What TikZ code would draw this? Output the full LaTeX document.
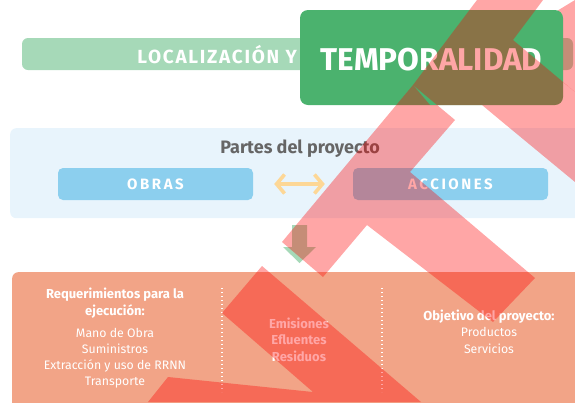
\documentclass[tikz,border=0pt]{standalone}
\usepackage{fontspec}
\setmainfont{Fira Sans}
\newfontfamily\trackA[LetterSpace=9]{Fira Sans}
\newfontfamily\trackB[LetterSpace=17]{Fira Sans}
\usetikzlibrary{arrows.meta}
\definecolor{boxgreen}{RGB}{75,178,110}
\definecolor{lgreen}{RGB}{166,217,184}
\definecolor{lblue}{RGB}{232,244,252}
\definecolor{bluebox}{RGB}{140,207,238}
\definecolor{salmon}{RGB}{242,164,135}
\definecolor{titlegrey}{RGB}{102,102,102}
\definecolor{arrowc}{RGB}{253,215,150}
\begin{document}
\begin{tikzpicture}[x=1pt,y=-1pt,
  txt/.style={inner sep=0pt, text=white, anchor=base},
  hd/.style={txt, font=\bfseries\fontsize{13}{15}\selectfont},
  it/.style={txt, font=\fontsize{12.3}{15}\selectfont},
  tagbox/.style={fill=bluebox, rounded corners=5pt, minimum width=195pt, minimum height=32pt, inner sep=0pt, text=white, font=\trackB\bfseries\fontsize{15}{17}\selectfont},
  sep/.style={white, line width=1.1pt, dash pattern=on 1.1pt off 2.9pt},
  dbl/.style={arrowc, line width=3.6pt, {Straight Barb[length=8pt,width=19pt]}-{Straight Barb[length=8pt,width=19pt]}},
  overlay/.style={red, fill opacity=0.35}
]
\useasboundingbox (0,0) rectangle (575,402);
% top bar
\node[fill=lgreen, rounded corners=6pt, minimum width=551pt, minimum height=32pt, inner sep=0pt] (bar) at (297.5,54) {};
\fill[overlay] (552,14) -- (575,0) -- (575,92) -- (552,73) -- cycle;
\node[fill=boxgreen, rounded corners=8pt, minimum width=263pt, minimum height=95pt, inner sep=0pt] (temp) at (431.5,57.5) {};
\node[txt, anchor=base east, font=\trackA\bfseries\fontsize{19}{22}\selectfont] (loc) at (297,63) {LOCALIZACIÓN Y};
\node[txt, font=\bfseries\fontsize{31.5}{36}\selectfont] (tempt) at (431.5,70) {TEMPORALIDAD};
% parts panel
\node[fill=lblue, rounded corners=6pt, minimum width=600pt, minimum height=90pt, inner sep=0pt, anchor=north west] (panel) at (10,128) {};
\node[inner sep=0pt, anchor=base, text=titlegrey, font=\bfseries\fontsize{18}{21}\selectfont] (pt) at (300,153) {Partes del proyecto};
\node[tagbox] (obras) at (155.5,184) {OBRAS};
\node[tagbox] (acc) at (450.5,184) {ACCIONES};
\draw[dbl, shorten <=21pt, shorten >=28pt] (obras) -- (acc);
% down arrow
\fill[lgreen] (292,225) -- (307,225) -- (307,247) -- (316,247) -- (299.5,263) -- (283,247) -- (292,247) -- cycle;
% output panel
\node[fill=salmon, rounded corners=6pt, minimum width=600pt, minimum height=150pt, inner sep=0pt, anchor=north west] (out) at (12,272) {};
\draw[sep] (222,288) -- (222,392);
\draw[sep] (382,288) -- (382,392);
\node[hd] (r1) at (115,298) {Requerimientos para la};
\node[hd] (r2) at (115,315) {ejecución:};
\node[it] (r3) at (115,337) {Mano de Obra};
\node[it] (r4) at (115,353) {Suministros};
\node[it] (r5) at (115,369.5) {Extracción y uso de RRNN};
\node[it] (r6) at (115,385.5) {Transporte};
\node[hd] (e1) at (299,328) {Emisiones};
\node[hd] (e2) at (299,344.5) {Efluentes};
\node[hd] (e3) at (299,361) {Residuos};
\node[hd] (o1) at (489,320) {Objetivo del proyecto:};
\node[it] (o2) at (489,336.5) {Productos};
\node[it] (o3) at (489,353) {Servicios};
% red overlay
\fill[overlay]
  (282,242) -- (323,277) -- (367,225) -- (493,322) -- (535,278) -- (410,172) -- (455,120) -- (413,85) -- cycle
  (413,85) -- (477,0) -- (543,0) -- (513,40) -- (575,92) -- (575,182) -- (500,120) -- (482,105) -- (430,105) -- cycle
  (148,402) -- (168,377) -- (313,392) -- (222,313) -- (262,266) -- (421,402) -- cycle;
\end{tikzpicture}
\end{document}
